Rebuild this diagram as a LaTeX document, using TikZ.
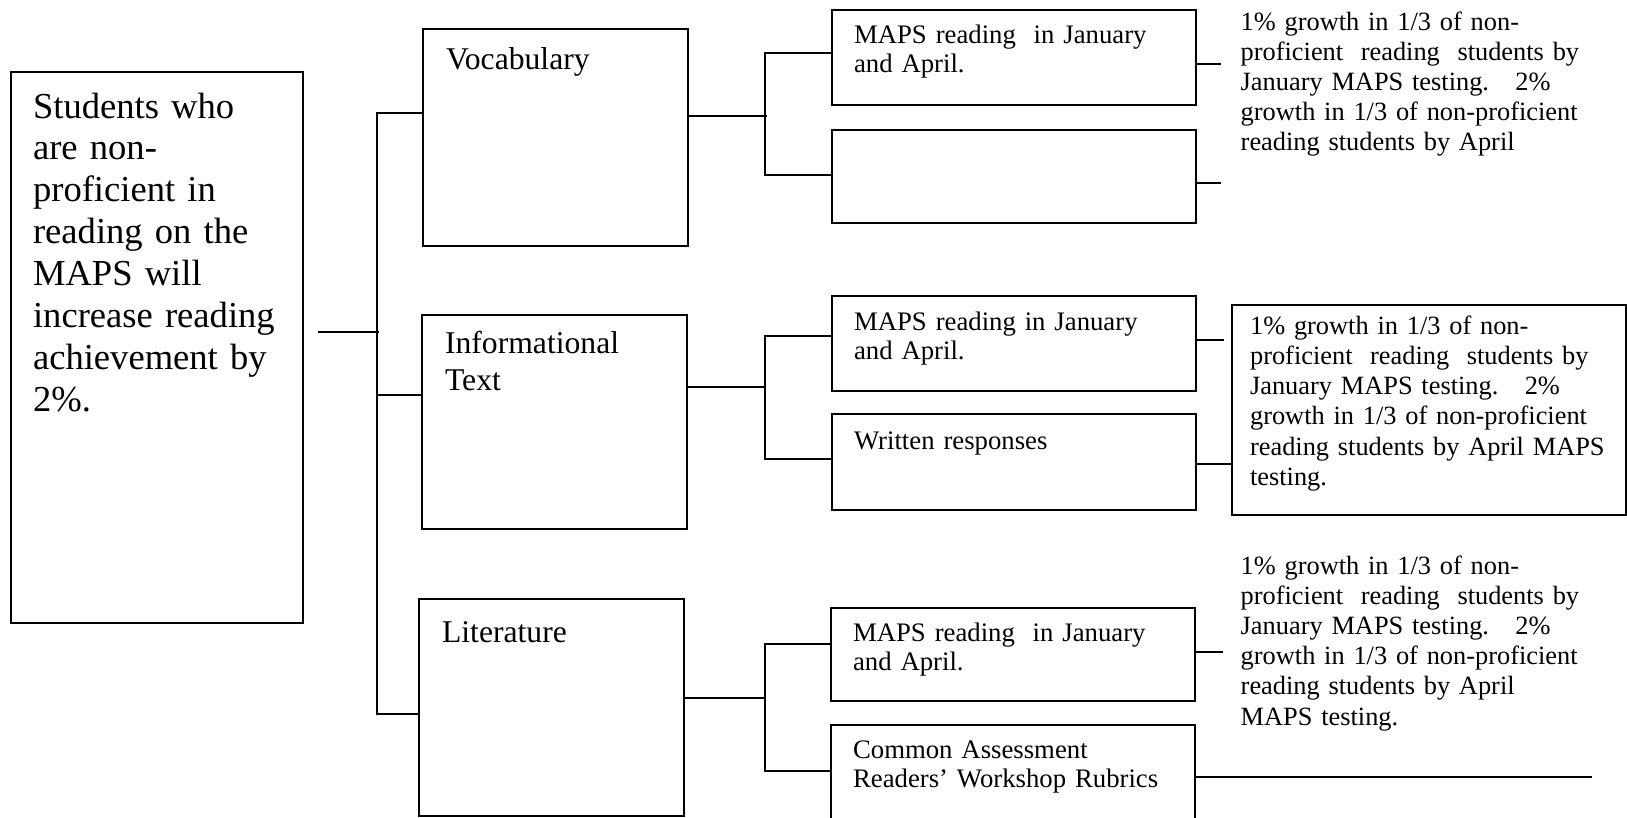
\documentclass[tikz,border=0pt]{standalone}
\usepackage{fontspec}
\setmainfont{Liberation Serif}
\usetikzlibrary{calc}

\begin{document}
\begin{tikzpicture}[
    x=0.01cm, y=-0.01cm,
    box/.style={rectangle, draw=black, line width=0.6pt, anchor=north west,
                inner ysep=0pt, align=left},
    goalbox/.style={box, inner xsep=0.22cm, text width=2.48cm,
                font=\fontsize{10.4}{11.9}\selectfont},
    areabox/.style={box, inner xsep=0.23cm, text width=2.19cm,
                font=\fontsize{9}{10.5}\selectfont},
    measurebox/.style={box, inner xsep=0.22cm, text width=3.2cm,
                font=\fontsize{7.6}{8.5}\selectfont},
    targetbox/.style={box, inner xsep=0.18cm, text width=3.58cm,
                font=\fontsize{7.5}{8.6}\selectfont},
    targettext/.style={anchor=base west, inner sep=0pt, align=left, text width=3.7cm,
                font=\fontsize{7.5}{8.6}\selectfont},
    line/.style={line width=0.6pt}
]
\useasboundingbox (0,0) rectangle (1627,817);

% Goal
\node[goalbox, text height=0.46cm, text depth=5.05cm] (goal) at (10,71)
    {Students who\\ are non-\\ proficient in\\ reading on the\\ MAPS will\\ increase reading\\ achievement by\\ 2\%.};

% Strands
\node[areabox, text height=0.40cm, text depth=1.77cm] (vocab) at (422,28) {Vocabulary};
\node[areabox, text height=0.38cm, text depth=1.76cm] (info) at (421,314) {Informational\\ Text};
\node[areabox, text height=0.43cm, text depth=1.74cm] (lit) at (418,598) {Literature};

% Measures
\node[measurebox, text height=0.33cm, text depth=0.62cm] (mapsA) at (831,9) {MAPS reading\ \ in January\\ and April.};
\node[measurebox, text height=0.31cm, text depth=0.62cm] (emptyA) at (831,129) {};
\node[measurebox, text height=0.34cm, text depth=0.61cm] (mapsB) at (831,295) {MAPS reading in January\\ and April.};
\node[measurebox, text height=0.35cm, text depth=0.61cm] (written) at (831,413) {Written responses};
\node[measurebox, text height=0.33cm, text depth=0.60cm] (mapsC) at (830,607) {MAPS reading\ \ in January\\ and April.};
\node[measurebox, text height=0.33cm, text depth=0.63cm] (common) at (830,724) {Common Assessment\\ Readers' Workshop Rubrics};

% Targets
\node[targettext] (targetA) at (1240,30)
    {1\% growth in 1/3 of non-\\ proficient\ \ reading\ \ students by\\ January MAPS testing.\ \ \ 2\%\\ growth in 1/3 of non-proficient\\ reading students by April};
\node[targetbox, text height=0.29cm, text depth=1.81cm] (targetB) at (1231,304)
    {1\% growth in 1/3 of non-\\ proficient\ \ reading\ \ students by\\ January MAPS testing.\ \ \ 2\%\\ growth in 1/3 of non-proficient\\ reading students by April MAPS\\ testing.};
\node[targettext] (targetC) at (1240,574)
    {1\% growth in 1/3 of non-\\ proficient\ \ reading\ \ students by\\ January MAPS testing.\ \ \ 2\%\\ growth in 1/3 of non-proficient\\ reading students by April\\ MAPS testing.};

% Goal to strands
\draw[line] ($(goal.east)+(14,-16)$) -- ++(61,0);
\draw[line] ($(vocab.west)+(0,-25)$) -| ($(lit.west)+(-41,6)$) -- ($(lit.west)+(0,6)$);
\draw[line] ($(info.west)+(0,-27)$) -- ++(-44,0);

% Strands to measures
\draw[line] ($(vocab.east)+(0,-22)$) -- ++(78,0);
\draw[line] ($(mapsA.west)+(0,-5)$) -| ($(emptyA.west)+(-66,-2)$) -- ($(emptyA.west)+(0,-2)$);
\draw[line] ($(info.east)+(0,-35)$) -- ++(78,0);
\draw[line] ($(mapsB.west)+(0,-8)$) -| ($(written.west)+(-66,-3)$) -- ($(written.west)+(0,-3)$);
\draw[line] ($(lit.east)+(0,-10)$) -- ++(79,0);
\draw[line] ($(mapsC.west)+(0,-11)$) -| ($(common.west)+(-65,-2)$) -- ($(common.west)+(0,-2)$);

% Measures to targets
\draw[line] ($(mapsA.east)+(0,6)$) -- ++(24,0);
\draw[line] ($(emptyA.east)+(0,6)$) -- ++(24,0);
\draw[line] ($(mapsB.east)+(0,-4)$) -- ++(27,0);
\draw[line] ($(written.east)+(0,2)$) coordinate (wout) -- (wout -| targetB.west);
\draw[line] ($(mapsC.east)+(0,-3)$) -- ++(27,0);
\draw[line] ($(common.east)+(0,4)$) -- ++(396,0);

\end{tikzpicture}
\end{document}
